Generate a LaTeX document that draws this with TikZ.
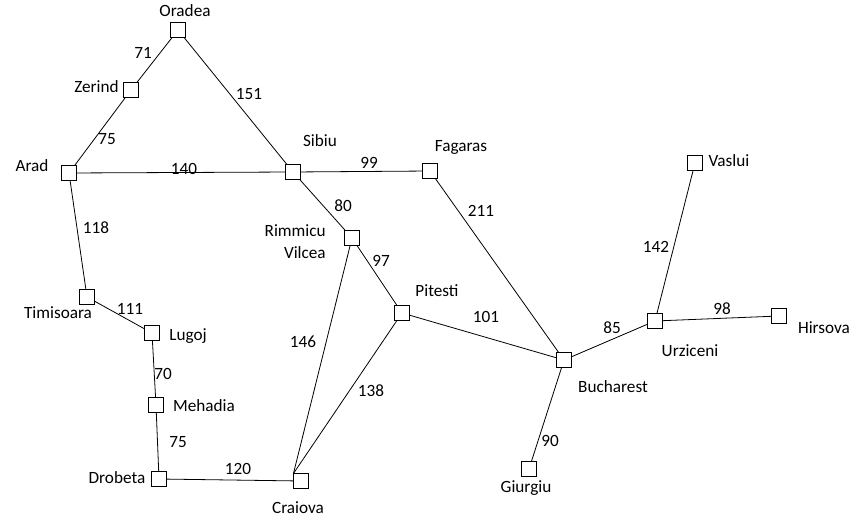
\documentclass[tikz,border=0pt]{standalone}
\usepackage{fontspec}
\setmainfont{Carlito}
\usepackage{tikz}
\usetikzlibrary{positioning}

\tikzset{
  city/.style={draw,rectangle,minimum size=10.9pt,inner sep=0pt},
  cityname/.style={inner sep=0.75pt},
  dist/.style={inner sep=0.75pt},
  road/.style={line width=0.6pt}
}

\begin{document}
\begin{tikzpicture}[x=0.75pt,y=0.75pt,yscale=-1,xscale=1,font=\fontsize{12.9pt}{15.5pt}\selectfont]
\useasboundingbox (0,0) rectangle (864,520);

%Shape: Cities
\node[city] (oradea) at (178,30) {};
\node[city] (zerind) at (131,90) {};
\node[city] (arad) at (69,173) {};
\node[city] (sibiu) at (293,172) {};
\node[city] (fagaras) at (430,171) {};
\node[city] (rimmicu) at (352,238) {};
\node[city] (pitesti) at (402,313) {};
\node[city] (timisoara) at (87,297) {};
\node[city] (lugoj) at (152,333) {};
\node[city] (mehadia) at (156,405) {};
\node[city] (drobeta) at (159,479) {};
\node[city] (craiova) at (301,481) {};
\node[city] (bucharest) at (564,360) {};
\node[city] (giurgiu) at (529,469) {};
\node[city] (urziceni) at (655,321) {};
\node[city] (vaslui) at (695,163) {};
\node[city] (hirsova) at (779,316) {};

%Straight Lines: Roads
\draw[road] (oradea) -- (zerind);
\draw[road] (oradea) -- (sibiu);
\draw[road] (zerind) -- (arad);
\draw[road] (arad) -- (sibiu);
\draw[road] (arad) -- (timisoara);
\draw[road] (sibiu) -- (fagaras);
\draw[road] (sibiu) -- (rimmicu);
\draw[road] (fagaras) -- (bucharest);
\draw[road] (rimmicu) -- (pitesti);
\draw[road] (rimmicu) -- (craiova.north west);
\draw[road] (pitesti) -- (craiova.north west);
\draw[road] (pitesti) -- (bucharest);
\draw[road] (timisoara) -- (lugoj);
\draw[road] (lugoj) -- (mehadia);
\draw[road] (mehadia) -- (drobeta);
\draw[road] (drobeta) -- (craiova);
\draw[road] (bucharest) -- (giurgiu);
\draw[road] (bucharest) -- (urziceni);
\draw[road] (urziceni) -- (vaslui);
\draw[road] (urziceni) -- (hirsova);

% Text Node: city names
\node[cityname] (toradea) at (185,11) {Oradea};
\node[cityname,anchor=east] (tzerind) at (120,87) {Zerind};
\node[cityname] (tarad) at (32,166) {Arad};
\node[cityname] (tsibiu) at (320,141) {Sibiu};
\node[cityname] (tfagaras) at (461,147) {Fagaras};
\node[cityname,anchor=east,align=right] (trimmicu) at (327,241.5) {Rimmicu\\[1.5pt]Vilcea};
\node[cityname] (tpitesti) at (437,291) {Pitesti};
\node[cityname] (ttimisoara) at (58,313) {Timisoara};
\node[cityname] (tlugoj) at (188,336) {Lugoj};
\node[cityname] (tmehadia) at (204,406) {Mehadia};
\node[cityname] (tdrobeta) at (117,478) {Drobeta};
\node[cityname] (tcraiova) at (298,508) {Craiova};
\node[cityname] (tbucharest) at (613,387) {Bucharest};
\node[cityname] (tgiurgiu) at (526,488) {Giurgiu};
\node[cityname] (turziceni) at (690,351) {Urziceni};
\node[cityname] (tvaslui) at (729,161) {Vaslui};
\node[cityname] (thirsova) at (824,328) {Hirsova};

% Text Node: distances
\node[dist] (d71) at (143,53) {71};
\node[dist] (d151) at (249,94) {151};
\node[dist] (d75a) at (107,139) {75};
\node[dist] (d140) at (184,169) {140};
\node[dist] (d118) at (96,228) {118};
\node[dist] (d99) at (369,163) {99};
\node[dist] (d80) at (343,206) {80};
\node[dist] (d211) at (481,211) {211};
\node[dist] (d97) at (381,261) {97};
\node[dist] (d101) at (486,317) {101};
\node[dist] (d146) at (303,342) {146};
\node[dist] (d111) at (130,309) {111};
\node[dist] (d70) at (163,374) {70};
\node[dist] (d75b) at (178,442) {75};
\node[dist] (d120) at (238,469) {120};
\node[dist] (d138) at (371,391) {138};
\node[dist] (d142) at (656,247) {142};
\node[dist] (d98) at (722,309) {98};
\node[dist] (d85) at (612,328) {85};
\node[dist] (d90) at (550,441) {90};

\end{tikzpicture}
\end{document}
